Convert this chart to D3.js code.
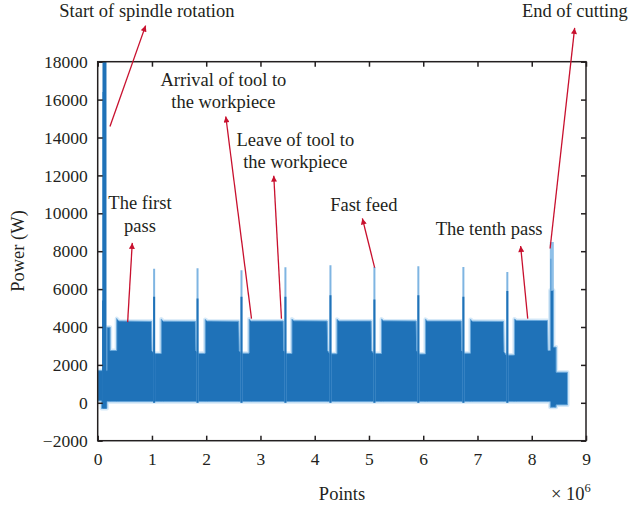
<!DOCTYPE html>
<html>
<head>
<meta charset="utf-8">
<script src="https://cdn.jsdelivr.net/npm/d3@7"></script>
<style>
  body { margin: 0; background: #fff; }
  svg text { font-family: "Liberation Serif", "DejaVu Serif", serif; fill: #231f20; }
</style>
</head>
<body>
<svg id="chart" width="631" height="509"></svg>
<script>
// Spindle power during ten machining passes, sampled over ~8.7 million points.

// Envelope of the power band: x in millions of points, power in W.
const envX = [
  0.00, 0.07, 0.07, 0.17, 0.17, 0.23, 0.23, 0.35,
  0.35, 0.39, 0.99, 1.00, 1.04, 1.15, 1.17,
  1.17, 1.21, 1.80, 1.81, 1.85, 1.96, 1.98,
  1.98, 2.02, 2.60, 2.61, 2.65, 2.77, 2.79,
  2.79, 2.83, 3.42, 3.43, 3.47, 3.56, 3.58,
  3.58, 3.62, 4.23, 4.24, 4.28, 4.39, 4.41,
  4.41, 4.45, 5.04, 5.05, 5.09, 5.21, 5.23,
  5.23, 5.27, 5.87, 5.88, 5.92, 6.02, 6.04,
  6.04, 6.08, 6.70, 6.71, 6.75, 6.85, 6.87,
  6.87, 6.91, 7.48, 7.49, 7.53, 7.66, 7.68,
  7.68, 7.72, 8.29, 8.30, 8.34, 8.34, 8.40, 8.40, 8.45, 8.45, 8.66
];
const envHigh = [
  1700, 1700, 1700, 1700, 3990, 3990, 2760, 2760,
  4450, 4320, 4300, 2750, 2600, 2600, 2600,
  4420, 4310, 4300, 2750, 2610, 2610, 2610,
  4400, 4320, 4310, 2750, 2620, 2620, 2620,
  4420, 4320, 4320, 2750, 2600, 2600, 2600,
  4420, 4330, 4320, 2750, 2590, 2590, 2590,
  4410, 4320, 4320, 2750, 2600, 2600, 2600,
  4420, 4330, 4320, 2750, 2580, 2580, 2580,
  4410, 4320, 4320, 2750, 2620, 2620, 2620,
  4400, 4310, 4300, 2700, 2520, 2520, 2520,
  4420, 4350, 4340, 2760, 2760, 5940, 5940, 2940, 2940, 1615, 1615
];
const envLow = [
  100, 100, -300, -300, 60, 60, 60, 60,
  60, 60, 60, 60, 60, 60, 60,
  60, 60, 60, 60, 60, 60, 60,
  60, 60, 60, 60, 60, 60, 60,
  60, 60, 60, 60, 60, 60, 60,
  60, 60, 60, 60, 60, 60, 60,
  60, 60, 60, 60, 60, 60, 60,
  60, 60, 60, 60, 60, 60, 60,
  60, 60, 60, 60, 60, 60, 60,
  60, 60, 60, 60, 60, 60, 60,
  60, 60, 60, 60, 60, -240, -240, -240, -240, -110, -110
];

// Short power peaks at each fast-feed move between passes.
const spikeX    = [0.10, 1.04, 1.84, 2.65, 3.46, 4.29, 5.10, 5.91, 6.74, 7.55];
const spikePeak = [16400, 7080, 7100, 7000, 7150, 7260, 7170, 7200, 7170, 6900];
const spikeCore = [5400, 5600, 5500, 5600, 5600, 5670, 5450, 5670, 5600, 5900];

// Spindle start-up surge and the final peak at the end of cutting.
const startX = 0.125, startPeak = 18000;
const endX = 8.37, endBase = 5940, endPeak = 8490;

const xTicks = [0, 1, 2, 3, 4, 5, 6, 7, 8, 9];
const yTicks = [-2000, 0, 2000, 4000, 6000, 8000, 10000, 12000, 14000, 16000, 18000];

// Callouts: label anchor, arrow tip and arrow tail, all in data units.
const notes = [
  { lines: ["Start of spindle rotation"], tx: 0.907, ty: 20365, hx: 0.883, hy: 19905, ax: 0.226, ay: 14577 },
  { lines: ["Arrival of tool to", "the workpiece"], tx: 2.317, ty: 16730, hx: 2.361, hy: 15106, ax: 2.835, ay: 4439 },
  { lines: ["Leave of tool to", "the workpiece"], tx: 3.643, ty: 13571, hx: 3.245, hy: 11984, ax: 3.387, ay: 4439 },
  { lines: ["The first", "pass"], tx: 0.779, ty: 10206, hx: 0.637, hy: 8439, ax: 0.552, ay: 4259 },
  { lines: ["Fast feed"], tx: 4.905, ty: 10116, hx: 4.878, hy: 9730, ax: 5.104, ay: 7138 },
  { lines: ["The tenth pass"], tx: 7.215, ty: 8847, hx: 7.795, hy: 8275, ax: 7.926, ay: 4439 },
  { lines: ["End of cutting"], tx: 8.794, ty: 20365, hx: 8.791, hy: 19783, ax: 8.338, ay: 8143 }
];

const svg = d3.select("#chart");
const m = { left: 97.7, right: 586, top: 61.7, bottom: 440.7 };

const x = d3.scaleLinear().domain([0, 9]).range([m.left, m.right]);
const y = d3.scaleLinear().domain([-2000, 18000]).range([m.bottom, m.top]);

const blue = "#1f72b8";
const paleBlue = "#a8cff0";
const red = "#c8102e";

const defs = svg.append("defs");
defs.append("clipPath").attr("id", "plotClip")
  .append("rect")
  .attr("x", m.left).attr("y", m.top)
  .attr("width", m.right - m.left).attr("height", m.bottom - m.top);

const plot = svg.append("g").attr("clip-path", "url(#plotClip)");

const env = envX.map((v, i) => ({ x: v, hi: envHigh[i], lo: envLow[i] }));
const area = d3.area()
  .x(d => x(d.x))
  .y0(d => y(d.lo))
  .y1(d => y(d.hi));

// soft halo around the dense band
plot.append("path").datum(env)
  .attr("d", area)
  .attr("fill", paleBlue)
  .attr("stroke", "#d6e9f8")
  .attr("stroke-width", 4)
  .attr("stroke-linejoin", "round");

plot.append("path").datum(env)
  .attr("d", area)
  .attr("fill", blue)
  .attr("stroke", "#6aa9dc")
  .attr("stroke-width", 1);

// fast-feed peaks: pale tip with a darker core
const spikes = spikeX.map((v, i) => ({ x: v, peak: spikePeak[i], core: spikeCore[i] }));
plot.selectAll("line.tip").data(spikes).join("line")
  .attr("class", "tip")
  .attr("x1", d => x(d.x)).attr("x2", d => x(d.x))
  .attr("y1", y(0)).attr("y2", d => y(d.peak))
  .attr("stroke", "#7fb5e2").attr("stroke-width", 2);
plot.selectAll("line.core").data(spikes).join("line")
  .attr("class", "core")
  .attr("x1", d => x(d.x)).attr("x2", d => x(d.x))
  .attr("y1", y(0)).attr("y2", d => y(d.core))
  .attr("stroke", blue).attr("stroke-width", 2);

// spindle start-up surge
plot.append("line")
  .attr("x1", x(startX)).attr("x2", x(startX))
  .attr("y1", y(-300)).attr("y2", y(startPeak))
  .attr("stroke", blue).attr("stroke-width", 4);

// last peak before the spindle idles
plot.append("line")
  .attr("x1", x(endX)).attr("x2", x(endX))
  .attr("y1", y(endBase)).attr("y2", y(endPeak))
  .attr("stroke", "#8fc0e8").attr("stroke-width", 4);
plot.append("line")
  .attr("x1", x(endX) - 1).attr("x2", x(endX) - 1)
  .attr("y1", y(endBase)).attr("y2", y(7600))
  .attr("stroke", "#5d9fd6").attr("stroke-width", 1.2);

// axes with inward ticks on all four sides
const axisColor = "#231f20";
const fontTick = "17.5px";

const gx = svg.append("g").attr("transform", `translate(0,${m.bottom})`)
  .call(d3.axisBottom(x).tickValues(xTicks).tickFormat(d3.format("d"))
    .tickSizeInner(-5).tickSizeOuter(0).tickPadding(12));
const gxTop = svg.append("g").attr("transform", `translate(0,${m.top})`)
  .call(d3.axisTop(x).tickValues(xTicks).tickFormat("")
    .tickSizeInner(-5).tickSizeOuter(0));
const gy = svg.append("g").attr("transform", `translate(${m.left},0)`)
  .call(d3.axisLeft(y).tickValues(yTicks)
    .tickFormat(d => d < 0 ? "\u2212" + Math.abs(d) : String(d))
    .tickSizeInner(-5).tickSizeOuter(0).tickPadding(10));
const gyRight = svg.append("g").attr("transform", `translate(${m.right},0)`)
  .call(d3.axisRight(y).tickValues(yTicks).tickFormat("")
    .tickSizeInner(-5).tickSizeOuter(0));

[gx, gxTop, gy, gyRight].forEach(g => {
  g.select(".domain").remove();
  g.selectAll(".tick line").attr("stroke", axisColor).attr("stroke-width", 1.5);
  g.selectAll(".tick text")
    .attr("fill", axisColor)
    .style("font-family", '"Liberation Serif", "DejaVu Serif", serif')
    .style("font-size", fontTick);
});

svg.append("rect")
  .attr("x", m.left).attr("y", m.top)
  .attr("width", m.right - m.left).attr("height", m.bottom - m.top)
  .attr("fill", "none").attr("stroke", axisColor).attr("stroke-width", 1.5);

// axis titles
svg.append("text")
  .attr("x", 342).attr("y", 500)
  .attr("text-anchor", "middle")
  .style("font-size", "18.5px")
  .text("Points");

const mult = svg.append("text")
  .attr("x", 551).attr("y", 500)
  .style("font-size", "18.5px");
mult.append("tspan").text("\u00d7 10");
mult.append("tspan").attr("dy", -8).style("font-size", "12.5px").text("6");

svg.append("text")
  .attr("transform", "translate(24,251) rotate(-90)")
  .attr("text-anchor", "middle")
  .style("font-size", "18.5px")
  .text("Power (W)");

// callout arrows
defs.append("marker")
  .attr("id", "head")
  .attr("viewBox", "0 0 10 10")
  .attr("refX", 10).attr("refY", 5)
  .attr("markerUnits", "userSpaceOnUse")
  .attr("markerWidth", 8).attr("markerHeight", 6)
  .attr("orient", "auto")
  .append("path")
  .attr("d", "M0,0 L10,5 L0,10 Z")
  .attr("fill", red);

const callouts = svg.append("g");
callouts.selectAll("line").data(notes).join("line")
  .attr("x1", d => x(d.ax)).attr("y1", d => y(d.ay))
  .attr("x2", d => x(d.hx)).attr("y2", d => y(d.hy))
  .attr("stroke", red).attr("stroke-width", 1.3)
  .attr("marker-end", "url(#head)");

callouts.selectAll("text").data(notes).join("text")
  .attr("x", d => x(d.tx)).attr("y", d => y(d.ty))
  .attr("text-anchor", "middle")
  .style("font-size", "18.5px")
  .each(function (d) {
    const t = d3.select(this);
    d.lines.forEach((line, i) => {
      t.append("tspan")
        .attr("x", x(d.tx))
        .attr("dy", i === 0 ? 0 : 22.3)
        .text(line);
    });
  });
</script>
</body>
</html>
